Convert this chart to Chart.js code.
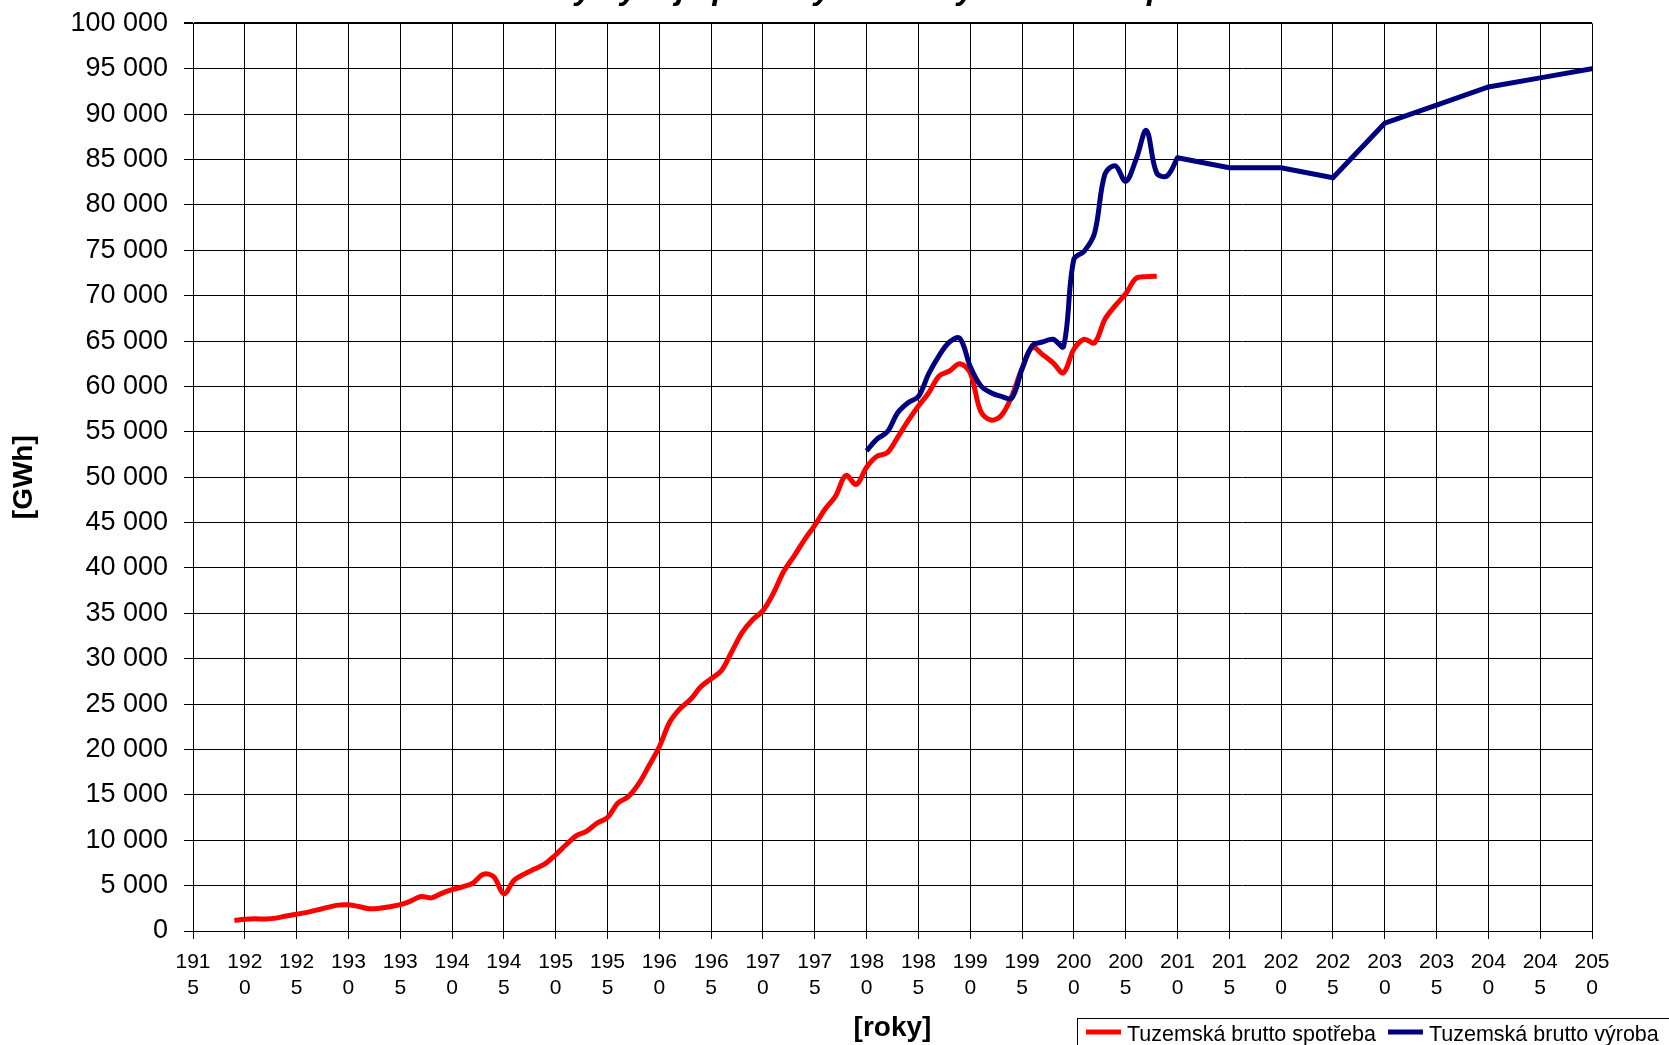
<!DOCTYPE html>
<html>
<head>
<meta charset="utf-8">
<script src="https://cdn.jsdelivr.net/npm/chart.js@4.4.1/dist/chart.umd.min.js"></script>
<style>
  html, body { margin: 0; padding: 0; background: #fff; overflow: hidden; }
  #graf { display: block; }
</style>
</head>
<body>
<canvas id="graf" width="1669" height="1045"></canvas>
<script>
const nadpis = 'Dlouhodobý vývoj spotřeby elektřiny v České republice'

// tuzemska brutto spotreba [GWh]
const rokySpotreba = [1919, 1920, 1921, 1922, 1923, 1924, 1925, 1926, 1927, 1928, 1929,
  1930, 1931, 1932, 1933, 1934, 1935, 1936, 1937, 1938, 1939,
  1940, 1941, 1942, 1943, 1944, 1945, 1946, 1947, 1948, 1949,
  1950, 1951, 1952, 1953, 1954, 1955, 1956, 1957, 1958, 1959,
  1960, 1961, 1962, 1963, 1964, 1965, 1966, 1967, 1968, 1969,
  1970, 1971, 1972, 1973, 1974, 1975, 1976, 1977, 1978, 1979,
  1980, 1981, 1982, 1983, 1984, 1985, 1986, 1987, 1988, 1989,
  1990, 1991, 1992, 1993, 1994, 1995, 1996, 1997, 1998, 1999,
  2000, 2001, 2002, 2003, 2004, 2005, 2006, 2007, 2008]
const spotreba = [1150, 1300, 1350, 1320, 1420, 1650, 1850, 2050, 2320, 2600, 2850,
  2880, 2700, 2450, 2500, 2680, 2900, 3300, 3800, 3650, 4150,
  4550, 4870, 5260, 6250, 6000, 4100, 5600, 6300, 6850, 7420,
  8400, 9500, 10500, 11000, 11900, 12500, 14100, 14800, 16200, 18200,
  20300, 23000, 24500, 25500, 26900, 27800, 28700, 30800, 32900, 34300,
  35300, 37200, 39600, 41300, 43100, 44700, 46500, 47900, 50200, 49200,
  51100, 52300, 52700, 54400, 56200, 57850, 59300, 61150, 61700, 62500,
  61500, 57300, 56300, 56800, 58900, 62000, 64300, 63500, 62600, 61500,
  64100, 65200, 64800, 67400, 68900, 70200, 71900, 72100, 72150]

// tuzemska brutto vyroba [GWh] - skutecnost
const rokyVyroba = [1980, 1981, 1982, 1983, 1984, 1985, 1986, 1987, 1988, 1989,
  1990, 1991, 1992, 1993, 1994, 1995, 1996, 1997, 1998, 1999,
  2000, 2001, 2002, 2003, 2004, 2005, 2006, 2007, 2008, 2009, 2010]
const vyroba = [52900, 54200, 55000, 57100, 58200, 58900, 61400, 63400, 64900, 65300,
  62200, 60100, 59300, 58900, 58700, 61900, 64500, 64900, 65200, 64400,
  74000, 74900, 76900, 83400, 84300, 82600, 85000, 88200, 83500, 83200, 85200]

// tuzemska brutto vyroba [GWh] - vyhled po 5 letech
const rokyVyhled = [2010, 2015, 2020, 2025, 2030, 2035, 2040, 2045, 2050]
const vyhledVyroby = [85200, 84100, 84100, 83000, 89000, 91000, 93000, 94000, 95000]

const nazvySerii = ['Tuzemská brutto spotřeba', 'Tuzemská brutto výroba']
const barvySerii = ['#ff0000', '#000080']

function body(roky, hodnoty){
	return roky.map((r, i) => ({x: r, y: hodnoty[i]}))
}

function tisice(v){
	return String(v).replace(/\B(?=(\d{3})+(?!\d))/g, ' ')
}

Chart.defaults.font.family = '"Liberation Sans", Arial, sans-serif'
Chart.defaults.color = '#000'

const nadpisPlugin = {
	id: 'nadpis',
	afterDraw(chart){
		let ctx = chart.ctx
		ctx.save()
		ctx.font = 'italic bold 32.6px "Liberation Sans", Arial, sans-serif'
		ctx.fillStyle = '#000'
		ctx.textAlign = 'center'
		ctx.textBaseline = 'alphabetic'
		ctx.fillText(nadpis, 832, -1)
		ctx.restore()
	}
}

// legenda vpravo dole, stejne jako v Excelu (vyhled nema vlastni polozku)
const legendaPlugin = {
	id: 'legenda',
	afterDraw(chart){
		let ctx = chart.ctx
		ctx.save()
		ctx.strokeStyle = '#000'
		ctx.lineWidth = 1
		ctx.strokeRect(1077.5, 1018.5, 700, 60)
		ctx.font = '21.5px "Liberation Sans", Arial, sans-serif'
		ctx.textBaseline = 'alphabetic'
		ctx.textAlign = 'left'
		let x = 1086
		chart.data.datasets.filter(ds => !ds.bezLegendy).forEach(ds => {
			ctx.strokeStyle = ds.borderColor
			ctx.lineWidth = 5
			ctx.beginPath()
			ctx.moveTo(x, 1032)
			ctx.lineTo(x + 35, 1032)
			ctx.stroke()
			ctx.fillStyle = '#000'
			ctx.fillText(ds.label, x + 41, 1040.5)
			x += 41 + ctx.measureText(ds.label).width + 12
		})
		ctx.restore()
	}
}

new Chart(document.getElementById('graf').getContext('2d'), {
	type: 'line',
	data: {
		datasets: [{
				label: nazvySerii[0],
				data: body(rokySpotreba, spotreba),
				borderColor: barvySerii[0],
				borderWidth: 5,
				pointRadius: 0,
				tension: 0.35,
				fill: false,
				order: 2
			},
			{
				label: nazvySerii[1],
				data: body(rokyVyroba, vyroba),
				borderColor: barvySerii[1],
				borderWidth: 5,
				pointRadius: 0,
				tension: 0.35,
				fill: false,
				order: 1
			},
			{
				label: nazvySerii[1],
				bezLegendy: true,
				data: body(rokyVyhled, vyhledVyroby),
				borderColor: barvySerii[1],
				borderWidth: 5,
				borderCapStyle: 'round',
				pointRadius: 0,
				tension: 0,
				fill: false,
				order: 0
		}]
	},
	options: {
		responsive: false,
		devicePixelRatio: 1,
		animation: false,
		layout: { padding: { top: 23.4, right: 77, bottom: 0, left: 0 } },
		plugins: {
			legend: { display: false },
			title: { display: false },
			tooltip: { enabled: false }
		},
		scales: {
			x: {
				type: 'linear',
				min: 1915,
				max: 2050,
				afterFit: (s) => { s.height = 114 },
				ticks: {
					stepSize: 5,
					autoSkip: false,
					maxRotation: 0,
					padding: 11,
					font: { size: 21, lineHeight: 1.2 },
					callback: (v) => { let t = String(v); return [t.slice(0, 3), t.slice(3)] }
				},
				grid: { color: '#000', lineWidth: 1, tickLength: 8 },
				border: { color: '#000', width: 1 },
				title: {
					display: true,
					text: '[roky]',
					font: { size: 28, weight: 'bold' },
					padding: { top: 0, bottom: 0 }
				}
			},
			y: {
				min: 0,
				max: 100000,
				afterFit: (s) => {
					s.width = 193
					s.paddingTop = 0
					s.paddingBottom = 0
				},
				ticks: {
					stepSize: 5000,
					autoSkip: false,
					padding: 16,
					font: { size: 27 },
					callback: (v) => tisice(v)
				},
				grid: {
					color: '#000',
					lineWidth: (c) => (c.tick && c.tick.value === 100000 ? 2 : 1),
					tickLength: 9
				},
				border: { color: '#000', width: 1 },
				title: {
					display: true,
					text: '[GWh]',
					font: { size: 28, weight: 'bold' },
					padding: { top: 7, bottom: 0 }
				}
			}
		}
	},
	plugins: [nadpisPlugin, legendaPlugin]
})
</script>
</body>
</html>
